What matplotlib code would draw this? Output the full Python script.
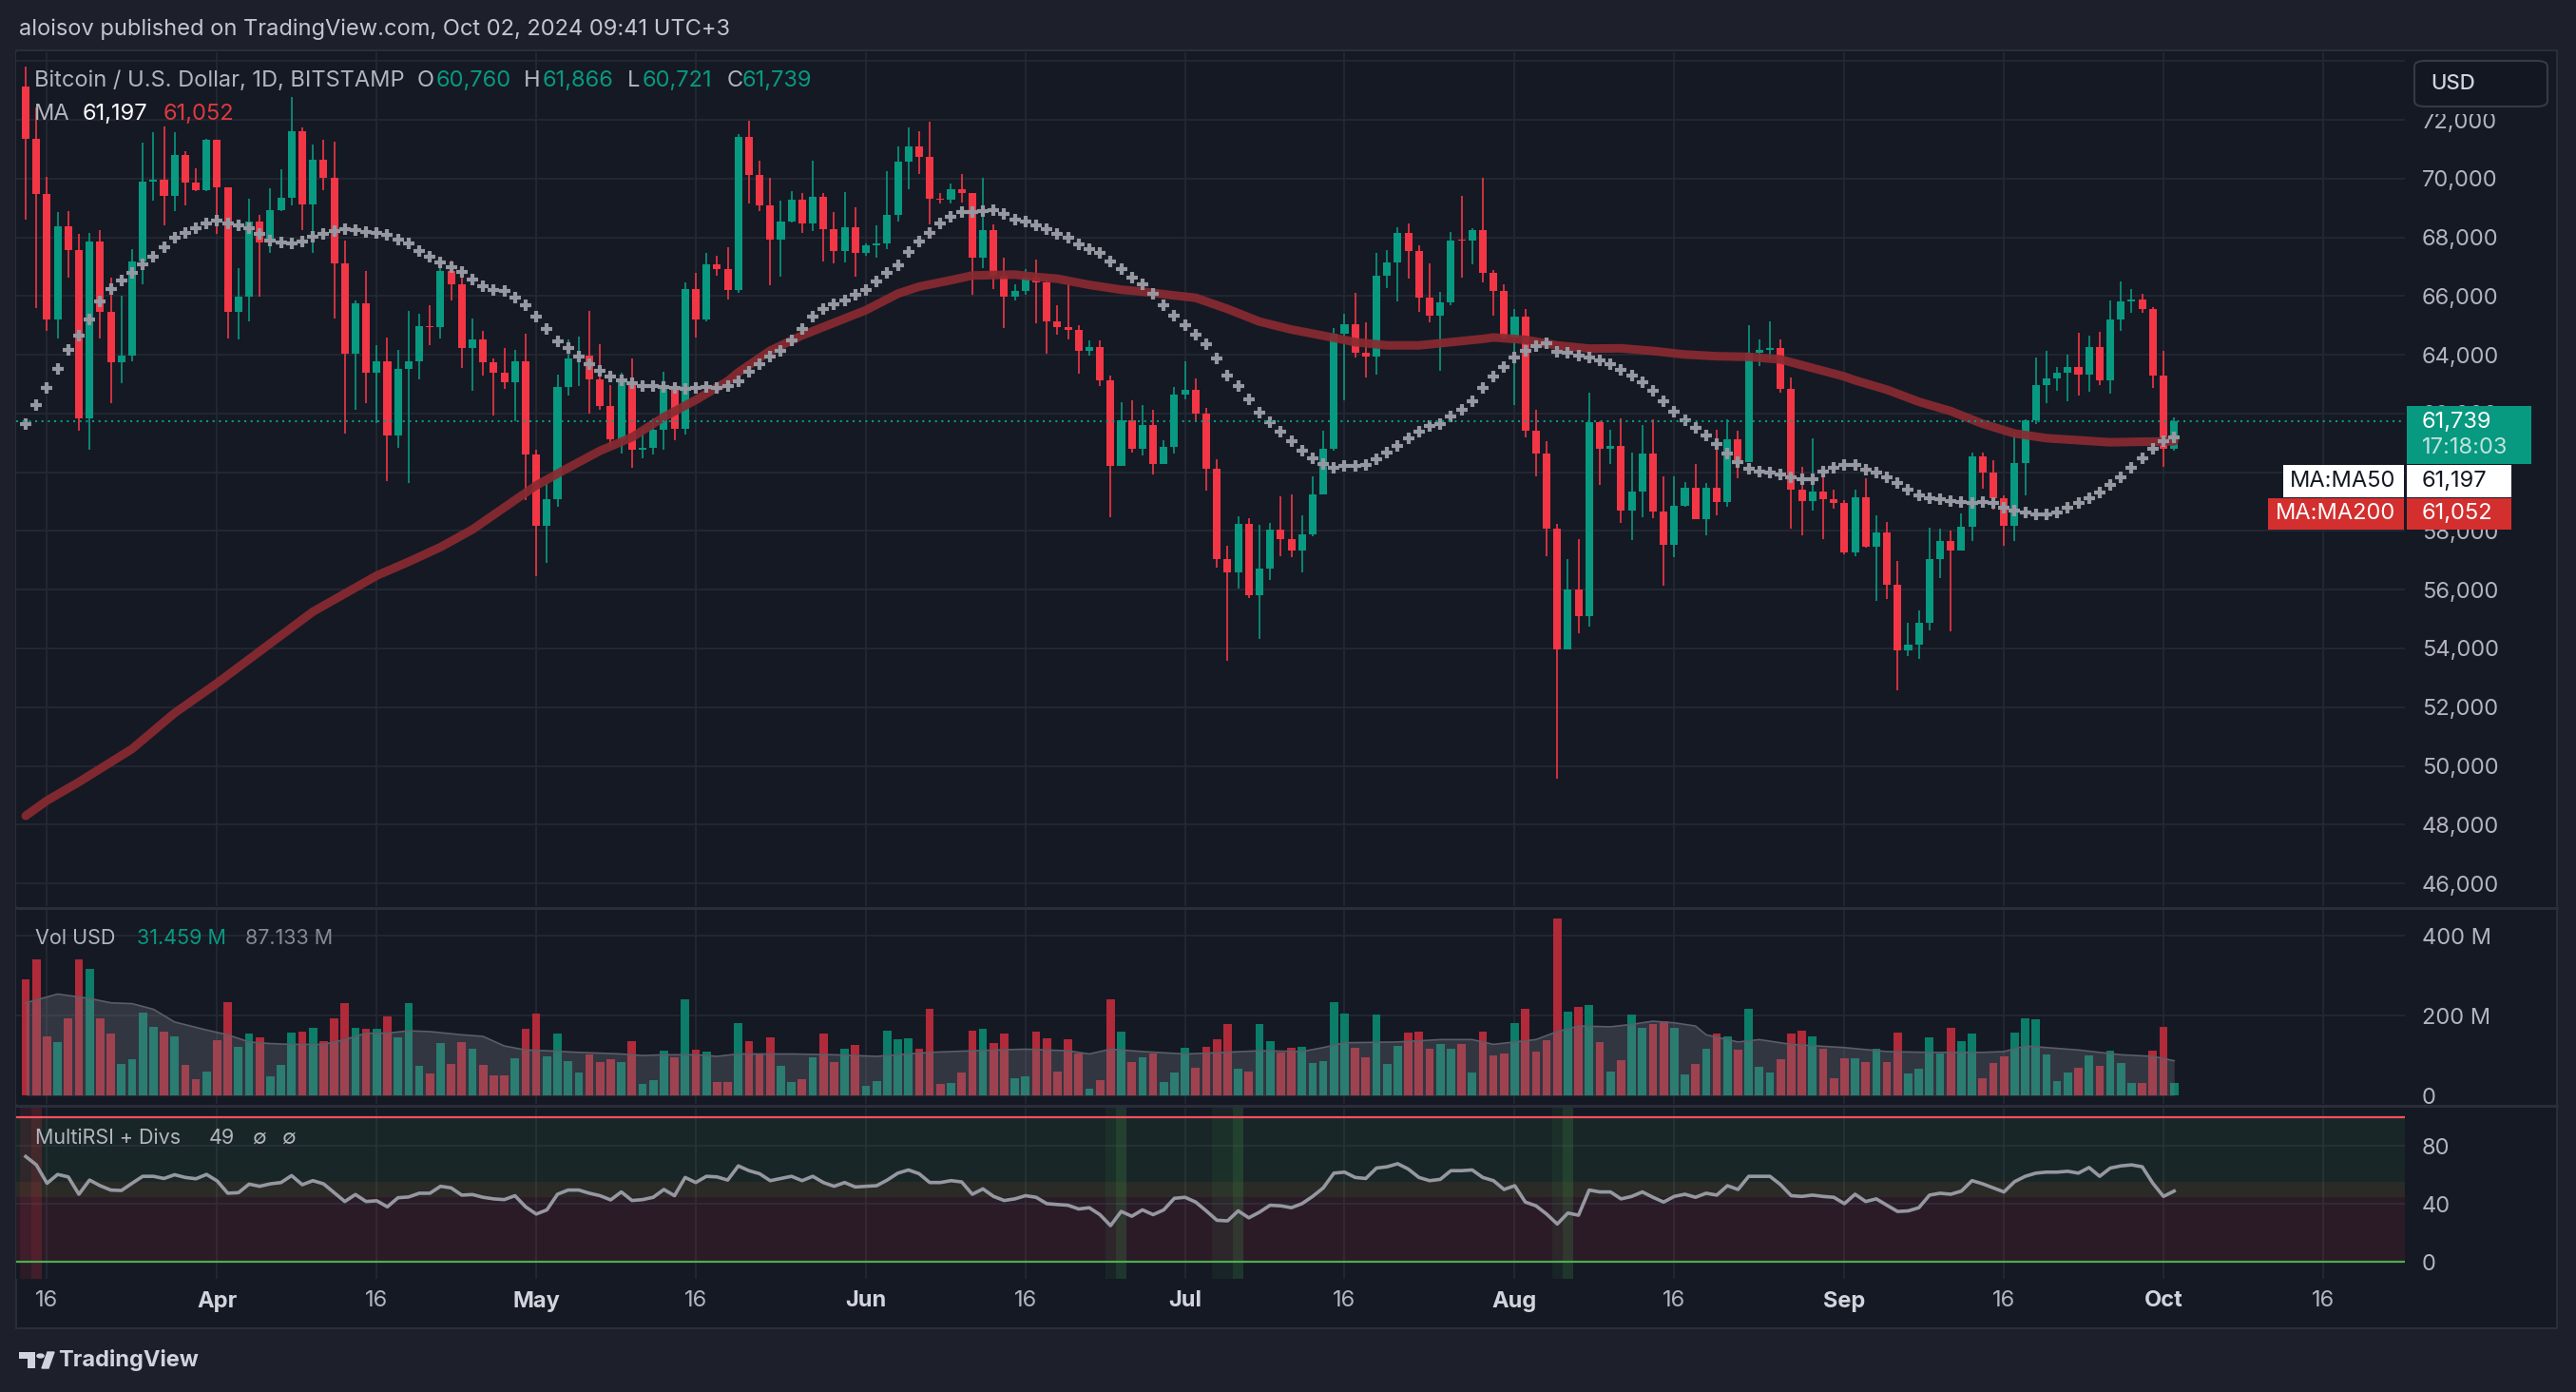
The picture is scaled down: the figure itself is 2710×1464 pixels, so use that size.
import numpy as np
import pandas as pd
import matplotlib
matplotlib.use("Agg")
import matplotlib.pyplot as plt
from matplotlib.patches import Rectangle, FancyBboxPatch, Circle, Polygon

plt.rcParams['font.family'] = ['Inter', 'DejaVu Sans']

W, H = 2710, 1464

# ---- data (BTCUSD daily, Bitstamp, 14 Mar 2024 .. 2 Oct 2024) ----
start = pd.Timestamp("2024-03-14")
first_open = 73121

close = [
    71364, 69480, 65214, 68359, 67572, 61850, 67862, 65445, 63757, 63966, 67180, 69896, 69977, 69399, 70809, 69861, 69595, 71306,
    69688, 65445, 65977, 68532, 67838, 68914, 69341, 71619, 69133, 70636, 70012, 67122, 64023, 65757, 63388, 63792, 61249, 63503,
    63792, 64983, 64948, 66856, 66394, 64220, 64509, 63734, 63388, 63064, 63792, 60590,
    58186, 59087, 62902, 63873, 63966, 63157, 62255, 61134, 63064, 60752, 60844, 61445, 62902, 61480, 66243, 65203, 67064, 66914,
    66220, 71422, 70127, 69098, 67937, 68528, 69281, 68474, 69388, 68291, 67539, 68334, 67453,
    67722, 67776, 68775, 70570, 71108, 70731, 69302, 69281, 69624, 69495, 67291, 68237, 66700, 65969, 66184, 66625, 66464, 65142,
    64948, 64851, 64120, 64249, 63131, 60217, 61776, 60798, 61615, 60293, 60863, 62658,
    62819, 61991, 60131, 57036, 56605, 58229, 55799, 56713, 58035, 57712, 57336, 57874, 59239, 60809, 64732, 65055, 64055, 63926,
    66689, 67141, 68140, 67549, 65936, 65345, 65775, 67904, 67890, 68248, 66775, 66173, 64590,
    65283, 61411, 60636, 58093, 53955, 56012, 55087, 61700, 60810, 60890, 58694, 59353, 60625, 58659, 57515, 58867, 59480, 58405,
    59480, 58983, 61122, 60347, 64069, 64162, 64243, 62833, 59411, 59018, 59353, 59076, 58960,
    57260, 59152, 57475, 57959, 56164, 53939, 54143, 54874, 57056, 57669, 57325, 58153, 60539, 60002, 59120, 58185, 60303, 61775,
    62958, 63205, 63388, 63581, 63313, 64248, 63130, 65194, 65806, 65893, 65570, 63280,
    60808, 61739,
]
high = [
    73815, 72428, 70058, 68856, 68879, 68100, 68162, 68243, 66625, 66012, 67584, 71225, 71595, 71769, 71572, 70925, 70347, 71364,
    71306, 69688, 66948, 69306, 68763, 69665, 70324, 72775, 71734, 71156, 71306, 71249, 67896, 65838, 66868, 64336, 64602, 64174,
    65492, 65411, 65677, 67237, 67203, 67029, 65249, 64798, 63873, 64232, 64174, 64717,
    60752, 59596, 63330, 64521, 64625, 65492, 64347, 62983, 63388, 63885, 61445, 61827, 63410, 63064, 66474, 66775, 67468, 67376,
    67665, 71503, 71965, 70624, 70011, 69248, 69570, 69517, 70603, 69495, 68850, 69527, 69011,
    67797, 68399, 70269, 71086, 71753, 71624, 71946, 69517, 69818, 70140, 69517, 70011, 68442, 67313, 66399, 66915, 67238, 66561,
    65700, 66431, 65002, 64497, 64497, 63303, 62389, 62464, 62303, 62142, 61099, 62905,
    63787, 63195, 62206, 60433, 57498, 58487, 58433, 58197, 58272, 59185, 59240, 58541, 59862, 61422, 64915, 65399, 66098, 65098,
    67463, 67571, 68355, 68463, 67743, 67098, 66130, 68194, 69398, 68302, 70010, 66900, 66400,
    65572, 65549, 62127, 61064, 58232, 57041, 57711, 62717, 61734, 61445, 61850, 60683, 61607, 61815, 59850, 59850, 59677, 60278,
    59619, 61434, 61815, 61411, 64994, 64509, 65133, 64509, 63237, 60197, 61156, 59908, 59411,
    59045, 59410, 59798, 58529, 58314, 56992, 54874, 55304, 58099, 58067, 58013, 58583, 60679, 60679, 60410, 59206, 61346, 61808,
    63904, 64119, 63581, 63990, 64743, 64656, 64796, 65860, 66505, 66247, 66086, 65624,
    64119, 61866,
]
low = [
    68590, 65584, 64798, 64544, 66625, 61423, 60752, 64544, 62347, 63018, 63792, 66416, 69260, 68394, 68879, 69087, 69572, 69572,
    68104, 64544, 64520, 65122, 65989, 67468, 68879, 69087, 68243, 67468, 69595, 65237, 61307, 62139, 62347, 61677, 59688, 60821,
    59630, 63157, 64313, 64544, 65838, 63561, 62787, 63307, 61920, 62833, 61746, 59052,
    56475, 56915, 58821, 62602, 62949, 62000, 62116, 60867, 60636, 60151, 60463, 60590, 60752, 61099, 61284, 64601, 65122, 66683,
    65896, 66104, 69168, 68904, 66356, 66646, 68506, 68151, 68226, 67184, 67098, 67130, 66646,
    67378, 67292, 67614, 68549, 69624, 70140, 68442, 69151, 69141, 69194, 66033, 66937, 66249, 64926, 65840, 66033, 65066, 64034,
    64679, 64529, 63367, 63959, 62937, 58465, 60217, 60669, 60583, 59938, 60293, 60648,
    62475, 61744, 59358, 56767, 53574, 56047, 55724, 54327, 56315, 57143, 57100, 56584, 57820, 59250, 60723, 62443, 63894, 63228,
    63324, 66281, 65829, 66582, 65453, 65109, 63443, 65700, 66636, 67066, 66480, 65318, 64530,
    62278, 61180, 59850, 57134, 49562, 53955, 54532, 54741, 59561, 60278, 58289, 57688, 58463, 58451, 56128, 57110, 58810, 58405,
    57850, 58544, 58810, 59793, 60347, 63607, 63838, 62700, 58081, 57850, 58694, 57735, 58752,
    57217, 57153, 57421, 55605, 55680, 52584, 53745, 53638, 54605, 56411, 54573, 57325, 57648, 59443, 58723, 57508, 57648, 59196,
    61646, 62345, 62775, 62420, 62614, 62743, 62958, 62668, 64818, 65441, 65430, 62861,
    60195, 60721,
]
# volume, millions USD
volume = [
    292, 340, 148, 134, 194, 342, 318, 194, 154, 80, 90, 208, 172, 160, 149, 76, 40, 60,
    139, 234, 122, 156, 146, 48, 76, 158, 160, 170, 136, 194, 232, 170, 168, 168, 198, 146, 232, 74, 54, 131, 78, 134, 118, 76,
    50, 50, 93, 168,
    206, 98, 156, 86, 58, 102, 84, 90, 84, 136, 30, 38, 112, 96, 240, 114, 110, 34, 34, 182, 136, 106, 146, 74, 34, 42, 96,
    156, 84, 118, 127,
    24, 36, 163, 142, 144, 118, 218, 29, 32, 58, 163, 166, 132, 156, 43, 48, 160, 144, 60, 142, 106, 18, 38, 240, 161, 84, 96,
    106, 34, 58,
    120, 70, 122, 142, 178, 67, 60, 178, 137, 108, 120, 122, 82, 86, 233, 204, 120, 96, 202, 79, 125, 158, 161, 118, 130, 118,
    130, 58, 161, 101, 106,
    182, 218, 110, 139, 444, 209, 223, 226, 134, 60, 89, 202, 170, 180, 187, 170, 53, 79, 118, 154, 149, 115, 216, 72, 58, 91,
    154, 163, 149, 118, 43,
    94, 94, 84, 118, 84, 158, 55, 67, 146, 106, 170, 137, 154, 43, 82, 98, 158, 194, 190, 103, 36, 58, 70, 101, 74, 113, 82, 31,
    31, 113,
    173, 31.459,
]
vol_ma_day = [0, 3, 6, 8, 10, 12, 14, 17, 19, 21, 23, 25, 28, 30, 32, 34, 36, 38, 41, 43, 45, 47, 49, 52, 54, 56, 58, 60, 63,
              65, 67, 72, 76, 80, 85, 89, 94, 98, 100, 102, 105, 109, 111, 116, 120, 122, 124, 129, 133, 136, 138, 140, 142,
              144, 146, 149, 151, 153, 155, 157, 158, 161, 163, 166, 171, 175, 179, 184, 186, 188, 190, 193, 195, 197, 200, 202]
vol_ma_val = [232, 254, 243, 232, 230, 216, 184, 164, 152, 134, 130, 128, 128, 140, 156, 156, 162, 160, 152, 148, 124, 114,
              112, 108, 106, 104, 100, 102, 102, 98, 104, 104, 102, 98, 108, 112, 116, 112, 104, 116, 110, 104, 106, 112, 110,
              120, 132, 134, 140, 140, 128, 134, 140, 160, 174, 172, 178, 186, 182, 174, 152, 134, 140, 128, 120, 110, 108,
              108, 110, 124, 120, 114, 108, 102, 98, 87]

ma50 = [
    61631, 62290, 62868, 63503, 64174, 64636, 65214, 65815, 66243, 66544, 66798, 67064, 67353, 67665, 67989, 68150, 68301, 68474,
    68555, 68474, 68393, 68324, 68127, 67896, 67838, 67804, 67862, 68012, 68127, 68220, 68278, 68243, 68185, 68150, 68090, 67919,
    67781, 67549, 67353, 67145, 66994, 66833, 66567, 66336, 66220, 66162, 65954, 65700,
    65295, 64891, 64451, 64220, 63943, 63677, 63446, 63272, 63134, 63018, 62949, 62926, 62902, 62868, 62833, 62868, 62902, 62868,
    62949, 63099, 63410, 63690, 63927, 64142, 64496, 64873, 65303, 65572, 65733, 65862, 66034,
    66216, 66485, 66786, 67055, 67485, 67861, 68152, 68474, 68689, 68850, 68850, 68883, 68937, 68797, 68614, 68528, 68399, 68291,
    68130, 67990, 67775, 67614, 67453, 67170, 66910, 66635, 66399, 66066, 65700, 65345,
    65001, 64679, 64345, 63862, 63303, 62927, 62475, 62045, 61712, 61368, 61045, 60723, 60476, 60293, 60164, 60218, 60218, 60261,
    60433, 60669, 60884, 61153, 61368, 61583, 61637, 61905, 62120, 62421, 62860, 63260, 63584,
    63919, 64127, 64301, 64393, 64104, 64069, 63977, 63896, 63815, 63688, 63492, 63283, 63064, 62775, 62416, 62046, 61757, 61503,
    61260, 60971, 60636, 60347, 60116, 60023, 60000, 59931, 59827, 59758, 59770, 60030, 60155,
    60252, 60249, 60088, 59980, 59840, 59625, 59410, 59228, 59120, 59088, 59013, 58980, 58959, 58980, 58937, 58797, 58690, 58615,
    58550, 58550, 58636, 58797, 58937, 59120, 59303, 59582, 59840, 60163, 60485, 60786,
    61055, 61197,
]
ma200_day = [0, 2, 5, 10, 14, 18, 22, 27, 33, 36, 39, 42, 45, 48, 51, 54, 57, 60, 63, 66, 67, 70, 73, 76, 79, 82, 84, 87, 89,
             93, 95, 97, 100, 103, 105, 108, 110, 113, 116, 119, 122, 125, 128, 131, 134, 137, 138, 141, 144, 147, 150, 153,
             156, 159, 162, 165, 168, 171, 172, 175, 178, 181, 184, 187, 190, 193, 196, 199, 202]
ma200_val = [48300, 48820, 49450, 50580, 51800, 52820, 53900, 55250, 56480, 56950, 57450, 58050, 58800, 59550, 60150, 60730,
             61190, 61880, 62460, 63100, 63400, 64140, 64660, 65090, 65520, 66080, 66320, 66540, 66700, 66730, 66650, 66590,
             66380, 66216, 66150, 66020, 65940, 65560, 65130, 64860, 64650, 64430, 64320, 64320, 64430, 64540, 64590, 64510,
             64320, 64210, 64220, 64130, 64010, 63950, 63930, 63840, 63550, 63260, 63130, 62810, 62400, 62080, 61650, 61320,
             61160, 61090, 61020, 61040, 61052]

rsi = [
    72.8, 67.0, 54.3, 60.4, 58.7, 46.7, 56.5, 52.6, 49.6, 49.3, 54.3, 59.1, 59.1, 57.6, 60.2, 58.3, 57.4, 60.4,
    55.9, 47.4, 47.8, 53.7, 52.2, 53.9, 54.8, 59.6, 53.3, 56.1, 53.9, 47.8, 41.7, 46.5, 41.7, 42.2, 38.0, 44.3, 44.8, 47.4,
    47.4, 52.2, 51.1, 46.1, 46.5, 44.6, 43.5, 43.0, 45.7, 38.0,
    33.0, 35.9, 46.7, 49.6, 49.6, 47.4, 45.7, 42.8, 48.3, 42.4, 43.0, 44.6, 50.0, 45.7, 58.3, 54.8, 59.1, 58.7, 56.5, 66.3,
    63.0, 60.9, 56.1, 57.6, 59.1, 56.1, 59.1, 54.8, 52.2, 54.8, 51.7,
    52.2, 52.6, 56.5, 61.3, 63.5, 60.9, 54.8, 54.8, 56.1, 55.2, 46.7, 50.4, 45.2, 42.4, 43.5, 45.7, 44.6, 40.2, 39.6, 39.1,
    36.5, 37.4, 32.6, 25.0, 34.8, 31.5, 35.9, 32.6, 35.9, 43.9,
    44.6, 41.3, 35.2, 28.7, 28.3, 35.2, 30.4, 34.3, 39.1, 38.7, 37.4, 40.2, 45.2, 51.1, 61.3, 62.0, 58.3, 57.6, 64.8, 65.7,
    67.8, 64.1, 58.3, 56.1, 57.0, 63.0, 63.0, 63.5, 58.3, 56.1, 50.0,
    52.6, 41.3, 38.7, 33.0, 26.1, 33.7, 32.2, 49.6, 48.3, 48.3, 43.5, 45.2, 48.3, 44.6, 41.3, 45.2, 46.7, 44.6, 47.4, 46.1,
    52.6, 50.0, 59.1, 59.1, 59.1, 53.3, 45.7, 45.2, 46.1, 45.2, 44.6,
    40.2, 46.7, 41.7, 43.5, 39.1, 34.8, 35.2, 37.4, 46.1, 47.4, 46.7, 48.9, 56.1, 53.9, 51.1, 48.3, 55.4, 59.1, 61.3, 62.0,
    62.0, 62.6, 61.3, 65.2, 59.1, 64.8, 66.3, 67.0, 65.7, 54.3,
    45.2, 48.9,
]
# divergence highlights: (first day, signal day)
bear_divs = [(0, 1)]
bull_divs = [(102, 103), (112, 114), (144, 145)]

tick_dates = ["2024-03-16", "2024-04-01", "2024-04-16", "2024-05-01", "2024-05-16", "2024-06-01", "2024-06-16",
              "2024-07-01", "2024-07-16", "2024-08-01", "2024-08-16", "2024-09-01", "2024-09-16", "2024-10-01",
              "2024-10-16"]

# ---- style ----
OUTER = '#1d202b'
PANE = '#151924'
GRID = '#242833'
TXT = '#b2b5be'
UP = '#089981'
DOWN = '#f23645'
VUP = '#0b7d69'
VDOWN = '#b02a39'

close = np.array(close, float)
high = np.array(high, float)
low = np.array(low, float)
opens = np.r_[first_open, close[:-1]]
days = np.arange(len(close))
is_up = close >= opens
ccol = np.where(is_up, UP, DOWN)
vcol = np.where(is_up, VUP, VDOWN)

fig = plt.figure(figsize=(W / 100, H / 100), dpi=100, facecolor=OUTER)


def rect(l, t, r, b):
    return [l / W, 1 - b / H, (r - l) / W, (b - t) / H]


def ftext(x, y, s, color=TXT, size=16, **kw):
    kw.setdefault('va', 'center')
    return fig.text(x / W, 1 - y / H, s, color=color, fontsize=size, **kw)


def fbox(x0, y0, x1, y1, color, z=6, **kw):
    p = Rectangle((x0 / W, 1 - y1 / H), (x1 - x0) / W, (y1 - y0) / H, transform=fig.transFigure,
                  facecolor=color, zorder=z, **kw)
    fig.add_artist(p)
    return p


# chart block background
fbox(17, 53, 2690, 1397, PANE, z=-5, edgecolor='#2a2e39', linewidth=1.5)

ax_p = fig.add_axes(rect(17, 55, 2530, 953))
ax_v = fig.add_axes(rect(17, 956, 2530, 1161))
ax_r = fig.add_axes(rect(17, 1164, 2530, 1345))

tick_days = [(pd.Timestamp(d) - start).days for d in tick_dates]
tick_lbls = [('16' if pd.Timestamp(d).day == 16 else pd.Timestamp(d).strftime('%b')) for d in tick_dates]

for ax in (ax_p, ax_v, ax_r):
    ax.set_facecolor(PANE)
    for s in ax.spines.values():
        s.set_visible(False)
    ax.set_xlim(-0.9, 223.7)
    ax.set_xticks(tick_days)
    ax.yaxis.tick_right()
    ax.tick_params(length=0, labelsize=17, labelcolor=TXT, pad=13)
    ax.grid(True, axis='x', color=GRID, lw=1.3)
    ax.set_axisbelow(True)
ax_p.tick_params(axis='x', labelbottom=False)
ax_v.tick_params(axis='x', labelbottom=False)

# ---- price pane ----
ax_p.set_ylim(45225, 74300)
grid_levels = list(range(46000, 74001, 2000))
for v in grid_levels:
    ax_p.axhline(v, color=GRID, lw=1.3, zorder=0)
# 60,000 sits fully behind the price-scale badges; 62,000 shows only its top
pticks = [v for v in grid_levels if v <= 72000 and v != 60000]
ax_p.set_yticks(pticks)
ax_p.set_yticklabels([f"{v:,}" for v in pticks])
for lab, v in zip(ax_p.get_yticklabels(), pticks):
    if v == 62000:
        clip = Rectangle((2530 / W, 1 - 427 / H), 160 / W, 40 / H, transform=fig.transFigure)
        lab.set_clip_path(clip)

ax_p.vlines(days, low, high, colors=ccol, lw=1.2, zorder=2)
body_lo = np.minimum(opens, close)
body_h = np.maximum(np.abs(close - opens), 40)
ax_p.bar(days, body_h, bottom=body_lo, width=0.72, color=ccol, linewidth=0, zorder=2)

ax_p.plot(ma200_day, ma200_val, color='#8a2a30', lw=6.5, alpha=0.92, solid_capstyle='round', zorder=3)
ax_p.plot(days, ma50, ls='none', marker='+', ms=9, mew=3.0, color='#9598a1', zorder=4)
ax_p.axhline(close[-1], color=UP, lw=1.5, ls=(0, (1, 2.2)), zorder=5)

# ---- volume pane ----
ax_v.set_ylim(-21, 467)
ax_v.set_yticks([0, 200, 400])
ax_v.set_yticklabels(['0', '200 M', '400 M'])
for v in (200, 400):
    ax_v.axhline(v, color=GRID, lw=1.3, zorder=0)
ax_v.bar(days, volume, width=0.78, color=vcol, linewidth=0, zorder=2)
ax_v.fill_between(vol_ma_day, 0, vol_ma_val, color='#787b86', alpha=0.3, lw=0, zorder=3)
ax_v.plot(vol_ma_day, vol_ma_val, color='#5b5e69', lw=1.2, zorder=3)

# ---- RSI pane ----
ax_r.set_ylim(-11.8, 107.2)
ax_r.set_yticks([0, 40, 80])
ax_r.set_xticklabels(tick_lbls)
ax_r.tick_params(axis='x', pad=9)
for t, s in zip(ax_r.get_xticklabels(), tick_lbls):
    if s != '16':
        t.set_fontweight('bold')
        t.set_color('#d1d4dc')
ax_r.axhspan(55, 100, color='#4caf50', alpha=0.09, lw=0, zorder=1)
ax_r.axhspan(45, 55, color='#d8c23a', alpha=0.11, lw=0, zorder=1)
ax_r.axhspan(0, 45, color='#f23645', alpha=0.10, lw=0, zorder=1)
for v in (80, 40):
    ax_r.axhline(v, color='#2c303b', lw=1.2, zorder=1)
for a, b in bull_divs:
    ax_r.axvspan(a - 0.5, b - 0.5, color='#4caf50', alpha=0.08, lw=0, zorder=1)
    ax_r.axvspan(b - 0.5, b + 0.5, color='#4caf50', alpha=0.2, lw=0, zorder=1)
for a, b in bear_divs:
    ax_r.axvspan(a - 0.5, b - 0.5, color='#f23645', alpha=0.1, lw=0, zorder=1)
    ax_r.axvspan(b - 0.5, b + 0.5, color='#f23645', alpha=0.2, lw=0, zorder=1)
ax_r.axhline(100, color='#f7525f', lw=1.6, zorder=2)
ax_r.axhline(0, color='#4caf50', lw=1.6, zorder=2)
ax_r.plot(days, rsi, color='#9598a1', lw=2.6, zorder=4)

# pane separators
for y in (954.5, 1162.5):
    fig.add_artist(plt.Line2D([17 / W, 2690 / W], [1 - y / H] * 2, color='#2a2e39', lw=2.2, zorder=7))

# ---- texts ----
ftext(20, 31, "aloisov published on TradingView.com, Oct 02, 2024 09:41 UTC+3", color='#c3c6ce', size=17)

ftext(36, 85, "Bitcoin / U.S. Dollar, 1D, BITSTAMP", size=17)
for x, s, c in [(439, "O", TXT), (459, "60,760", UP), (551, "H", TXT), (571, "61,866", UP),
                (660, "L", TXT), (676, "60,721", UP), (765, "C", TXT), (781, "61,739", UP)]:
    ftext(x, 85, s, color=c, size=17)
ftext(36, 120, "MA", size=17)
ftext(87, 120, "61,197", color='#ffffff', size=17)
ftext(172, 120, "61,052", color='#e0393e', size=17)

ftext(37, 987, "Vol USD", size=15.5)
ftext(144, 987, "31.459 M", color=UP, size=15.5)
ftext(258, 987, "87.133 M", color='#878a93', size=15.5)

ftext(37, 1197, "MultiRSI + Divs", size=15.5)
ftext(220, 1197, "49", size=15.5)
ftext(265, 1197, "\u2205", size=15.5)
ftext(296, 1197, "\u2205", size=15.5)

# USD box (with a margin that masks the top of the 72,000 label)
fbox(2531, 55, 2689, 120, PANE, z=5)
usd = FancyBboxPatch((2540 / W, 1 - 112 / H), 140 / W, 48 / H, boxstyle="round,pad=0,rounding_size=0.004",
                     transform=fig.transFigure, facecolor='#131722', edgecolor='#363a45', lw=1.5, zorder=6)
fig.add_artist(usd)
ftext(2557, 88, "USD", color='#d1d4dc', size=16, fontweight='medium', zorder=8)

# last price and MA labels on the price scale
fbox(2532, 427, 2663, 488, UP)
ftext(2548, 444, "61,739", color='#ffffff', size=17, zorder=8)
ftext(2548, 471, "17:18:03", color='#bfe3dc', size=17, zorder=8)
fbox(2402, 489, 2529, 523, '#ffffff')
fbox(2532, 489, 2642, 523, '#ffffff')
ftext(2465, 506, "MA:MA50", color='#131722', size=17, ha='center', zorder=8)
ftext(2548, 506, "61,197", color='#131722', size=17, zorder=8)
fbox(2386, 524, 2529, 557, '#d32f2f')
fbox(2532, 524, 2642, 557, '#d32f2f')
ftext(2457, 540, "MA:MA200", color='#ffffff', size=17, ha='center', zorder=8)
ftext(2548, 540, "61,052", color='#ffffff', size=17, zorder=8)

# logo
LOGO = '#d1d4dc'
fbox(20, 1422, 37, 1429, LOGO, z=6)
fbox(29, 1422, 37, 1439, LOGO, z=6)
fig.add_artist(Circle((42.5 / W, 1 - 1426 / H), 3.6 / W, transform=fig.transFigure, color=LOGO, zorder=6))
fig.add_artist(Polygon([(44 / W, 1 - 1439 / H), (50 / W, 1 - 1422 / H), (57 / W, 1 - 1422 / H), (51 / W, 1 - 1439 / H)],
                       closed=True, transform=fig.transFigure, color=LOGO, zorder=6))
ftext(61, 1430, "TradingView", color=LOGO, size=17, fontweight='bold')

fig.savefig("out.png", dpi=100, facecolor=OUTER)
